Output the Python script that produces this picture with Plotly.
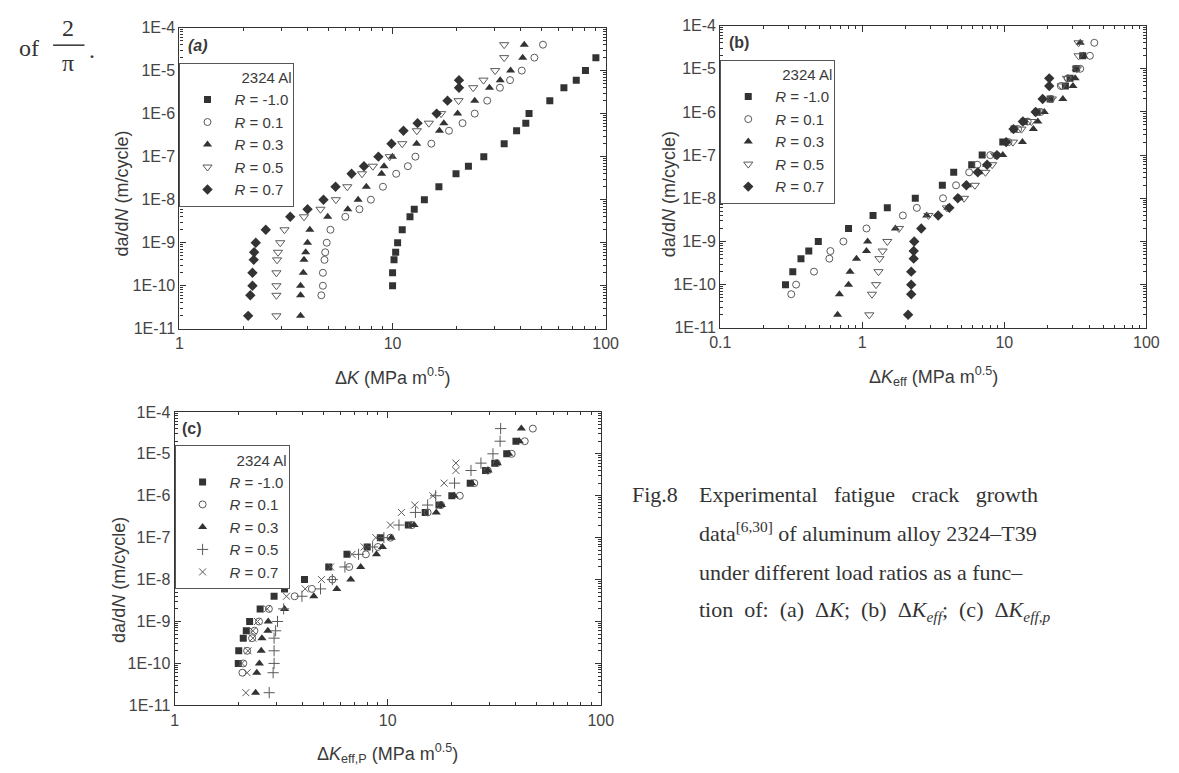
import plotly.graph_objects as go

# ---------------- data: da/dN levels for each load ratio ----------------
dadn_m1 = [1e-10, 2e-10, 4e-10, 6e-10, 1e-9, 2e-9, 4e-9, 6e-9, 1e-8, 2e-8, 4e-8, 6e-8,
           1e-7, 2e-7, 4e-7, 6e-7, 1e-6, 2e-6, 4e-6, 6e-6, 1e-5, 2e-5]
dadn_01 = [6e-11, 1e-10, 2e-10, 4e-10, 6e-10, 1e-9, 2e-9, 4e-9, 6e-9, 1e-8, 2e-8, 4e-8, 6e-8,
           1e-7, 2e-7, 4e-7, 6e-7, 1e-6, 2e-6, 4e-6, 6e-6, 1e-5, 2e-5, 4e-5]
dadn_03 = [2e-11, 6e-11, 1e-10, 2e-10, 4e-10, 6e-10, 1e-9, 2e-9, 4e-9, 6e-9, 1e-8, 2e-8, 4e-8, 6e-8,
           1e-7, 2e-7, 4e-7, 6e-7, 1e-6, 2e-6, 4e-6, 6e-6, 1e-5, 2e-5, 4e-5]
dadn_05 = [2e-11, 6e-11, 1e-10, 2e-10, 4e-10, 6e-10, 1e-9, 2e-9, 4e-9, 6e-9, 1e-8, 2e-8, 4e-8, 6e-8,
           1e-7, 2e-7, 4e-7, 6e-7, 1e-6, 2e-6, 4e-6, 6e-6, 1e-5, 2e-5, 4e-5]
dadn_07 = [2e-11, 6e-11, 1e-10, 2e-10, 4e-10, 6e-10, 1e-9, 2e-9, 4e-9, 6e-9, 1e-8, 2e-8, 4e-8, 6e-8,
           1e-7, 2e-7, 4e-7, 6e-7, 1e-6, 2e-6, 4e-6, 6e-6]

# (a) Delta K
dk_m1 = [10.0, 10.0, 10.16, 10.34, 10.56, 11.1, 12.07, 12.64, 14.1, 16.5, 19.85, 22.7,
         26.8, 33.4, 38.2, 42.2, 43.7, 54.7, 63.7, 72.8, 80.4, 90.0]
dk_01 = [4.63, 4.71, 4.71, 4.79, 4.83, 4.91, 5.11, 6.0, 6.99, 7.91, 9.01, 10.4, 11.8,
         12.8, 15.2, 18.4, 21.3, 24.3, 27.8, 31.9, 35.6, 40.4, 46.3, 50.8]
dk_03 = [3.70, 3.70, 3.70, 3.81, 3.84, 3.91, 3.99, 4.09, 4.96, 6.16, 6.89, 7.53, 8.88, 9.12,
         9.98, 12.97, 16.6, 17.4, 20.2, 24.3, 28.5, 32.0, 35.8, 40.8, 41.5]
dk_05 = [2.85, 2.85, 2.85, 2.85, 2.87, 2.90, 2.97, 3.11, 3.84, 4.59, 5.42, 6.13, 7.19, 8.08,
         9.7, 11.1, 13.0, 14.8, 16.9, 20.4, 23.9, 26.7, 30.3, 33.4, 33.4]
dk_07 = [2.10, 2.15, 2.20, 2.20, 2.23, 2.24, 2.28, 2.54, 3.31, 3.99, 4.74, 5.40, 6.42, 7.34,
         8.58, 9.88, 11.25, 13.1, 16.1, 18.1, 20.5, 20.5]

# (b) effective Delta K
dkeff_m1 = [0.288, 0.324, 0.37, 0.42, 0.49, 0.80, 1.19, 1.50, 2.36, 3.66, 4.40, 5.89,
            6.98, 9.75, 11.7, 13.8, 17.0, 21.0, 26.9, 29.0, 32.0, 35.6]
dkeff_01 = [0.316, 0.342, 0.457, 0.586, 0.596, 0.736, 1.07, 1.93, 2.42, 3.70, 4.57, 5.65, 6.45,
            7.96, 10.7, 12.5, 14.6, 18.0, 21.2, 25.0, 28.0, 34.2, 40.0, 43.0]
dkeff_03 = [0.67, 0.69, 0.80, 0.82, 0.91, 1.07, 1.09, 1.71, 2.84, 4.0, 4.82, 5.5, 6.6, 7.5,
            9.75, 13.4, 16.0, 17.2, 19.1, 25.8, 30.4, 31.5, 32.0, 36.0, 34.2]
dkeff_05 = [1.12, 1.17, 1.25, 1.30, 1.32, 1.39, 1.50, 1.81, 2.92, 3.94, 5.2, 6.2, 7.36, 8.2,
            8.6, 11.5, 13.2, 15.5, 17.6, 21.6, 25.3, 27.6, 32.4, 33.3, 33.3]
dkeff_07 = [2.10, 2.21, 2.21, 2.21, 2.30, 2.30, 2.32, 2.60, 3.42, 4.1, 4.7, 5.4, 6.5, 7.56,
            8.87, 10.3, 11.6, 13.5, 16.6, 18.6, 20.7, 20.7]

# (c) effective Delta K (plastic-zone based)
dkp_m1 = [1.99, 2.00, 2.10, 2.17, 2.25, 2.52, 2.93, 3.28, 4.07, 5.29, 6.44, 8.02,
          9.24, 12.5, 15.0, 17.4, 20.0, 24.4, 28.8, 31.8, 36.2, 40.0]
dkp_01 = [2.08, 2.10, 2.19, 2.31, 2.37, 2.49, 2.77, 3.66, 4.41, 5.50, 6.6, 7.9, 9.0,
          10.3, 13.0, 15.4, 17.8, 21.8, 25.5, 29.5, 32.5, 38.2, 44.0, 48.0]
dkp_03 = [2.40, 2.43, 2.50, 2.55, 2.57, 2.74, 2.75, 3.28, 4.50, 5.77, 6.71, 7.47, 8.86, 9.45,
          10.4, 13.3, 16.9, 17.9, 20.5, 24.8, 29.6, 32.7, 37.0, 41.5, 42.4]
dkp_05 = [2.78, 2.90, 2.93, 2.93, 2.93, 2.98, 3.04, 3.25, 3.96, 4.84, 5.50, 6.3, 7.3, 8.5,
          9.6, 11.3, 13.5, 15.4, 16.8, 20.6, 24.6, 27.4, 31.2, 33.7, 33.9]
dkp_07 = [2.16, 2.19, 2.07, 2.21, 2.33, 2.33, 2.45, 2.72, 3.35, 4.10, 4.89, 5.40, 6.8, 7.76,
          8.8, 10.3, 11.6, 13.4, 16.3, 18.4, 20.9, 20.9]

r_labels = ["<i>R</i> = -1.0", "<i>R</i> = 0.1", "<i>R</i> = 0.3", "<i>R</i> = 0.5", "<i>R</i> = 0.7"]
y_tickvals = [1e-11, 1e-10, 1e-9, 1e-8, 1e-7, 1e-6, 1e-5, 1e-4]
y_ticktext = ["1E-11", "1E-10", "1E-9", "1E-8", "1E-7", "1E-6", "1E-5", "1E-4"]

# ---------------- styling ----------------
W, H = 1179, 773
SANS = "Liberation Sans, Arial, sans-serif"
SERIF = "Liberation Serif, Times New Roman, serif"
INK = "#3a3a3a"
DARK = "#333333"
OPEN = "#5a5a5a"
NB = "&nbsp;"

def px_x(p):
    return p / W

def px_y(p):
    return 1 - p / H

def marker_style(kind):
    if kind == "square":
        return dict(symbol="square", size=7, color=DARK, line=dict(width=0))
    if kind == "circle":
        return dict(symbol="circle-open", size=7, color=OPEN, line=dict(width=1, color=OPEN))
    if kind == "tri":
        return dict(symbol="triangle-up", size=8, color=DARK, line=dict(width=0))
    if kind == "itri":
        return dict(symbol="triangle-down-open", size=8, color=OPEN, line=dict(width=1, color=OPEN))
    if kind == "diamond":
        return dict(symbol="diamond", size=8, color=DARK, line=dict(width=0))
    if kind == "plus":
        return dict(symbol="cross-thin", size=8, color=OPEN, line=dict(width=1, color=OPEN))
    if kind == "x":
        return dict(symbol="x-thin", size=7, color=OPEN, line=dict(width=1, color=OPEN))

fig = go.Figure()

panels = [
    ("x", "y", "legend", ["square", "circle", "tri", "itri", "diamond"],
     [dk_m1, dk_01, dk_03, dk_05, dk_07]),
    ("x2", "y2", "legend2", ["square", "circle", "tri", "itri", "diamond"],
     [dkeff_m1, dkeff_01, dkeff_03, dkeff_05, dkeff_07]),
    ("x3", "y3", "legend3", ["square", "circle", "tri", "plus", "x"],
     [dkp_m1, dkp_01, dkp_03, dkp_05, dkp_07]),
]
dadn_sets = [dadn_m1, dadn_01, dadn_03, dadn_05, dadn_07]

for xa, ya, leg, kinds, xsets in panels:
    for label, kind, xs, ys in zip(r_labels, kinds, xsets, dadn_sets):
        fig.add_trace(go.Scatter(
            x=xs, y=ys, mode="markers", name=label,
            marker=marker_style(kind), xaxis=xa, yaxis=ya,
            legend=leg, showlegend=True, hoverinfo="x+y",
        ))

def minor_vals(lo, hi):
    vals = []
    for e in range(lo, hi):
        for m in range(2, 10):
            vals.append(m * 10.0 ** e)
    return vals

axis_common = dict(
    type="log", showgrid=False, zeroline=False, showline=True, linecolor=DARK,
    linewidth=1.2, mirror="allticks", ticks="inside", ticklen=6, tickwidth=1,
    tickcolor=DARK, tickfont=dict(family=SANS, size=16, color="#444444"),
)

def xaxis(domain, lo, hi, anchor):
    vals = [10.0 ** e for e in range(lo, hi + 1)]
    text = ["0.1" if v < 1 else str(int(round(v))) for v in vals]
    return dict(axis_common, domain=domain, range=[lo, hi], anchor=anchor,
                tickmode="array", tickvals=vals, ticktext=text,
                minor=dict(ticks="inside", ticklen=3, tickcolor=DARK,
                           tickmode="array", tickvals=minor_vals(lo, hi)))

def yaxis(domain, anchor):
    return dict(axis_common, domain=domain, range=[-11, -4], anchor=anchor,
                tickmode="array", tickvals=y_tickvals, ticktext=y_ticktext,
                minor=dict(ticks="inside", ticklen=3, tickcolor=DARK,
                           tickmode="array", tickvals=minor_vals(-11, -4)))

a_x = [px_x(172), px_x(607)]
a_y = [px_y(328), px_y(20)]
b_x = [px_x(724), px_x(1159)]
b_y = [px_y(327), px_y(18)]
c_x = [px_x(167), px_x(602)]
c_y = [px_y(713), px_y(413)]

legend_common = dict(
    xanchor="left", yanchor="top", bgcolor="white", bordercolor="#555555",
    borderwidth=1, font=dict(family=SANS, size=15, color=INK), itemwidth=44,
    itemclick=False, itemdoubleclick=False,
    title=dict(text="2324 Al", side="top right", font=dict(family=SANS, size=15, color=INK)),
)

fig.update_layout(
    width=W, height=H, margin=dict(l=0, r=0, t=0, b=0),
    paper_bgcolor="white", plot_bgcolor="white",
    font=dict(family=SANS, color=INK),
    xaxis=xaxis(a_x, 0, 2, "y"), yaxis=yaxis(a_y, "x"),
    xaxis2=xaxis(b_x, -1, 2, "y2"), yaxis2=yaxis(b_y, "x2"),
    xaxis3=xaxis(c_x, 0, 2, "y3"), yaxis3=yaxis(c_y, "x3"),
    legend=dict(legend_common, x=px_x(172), y=px_y(56)),
    legend2=dict(legend_common, x=px_x(724), y=px_y(53)),
    legend3=dict(legend_common, x=px_x(167), y=px_y(447)),
)

ann = []

def text(xp, yp, s, size=17, family=SANS, xanchor="center", angle=0, color=INK):
    ann.append(dict(x=px_x(xp), y=px_y(yp), xref="paper", yref="paper", text=s,
                    showarrow=False, xanchor=xanchor, yanchor="middle", textangle=angle,
                    font=dict(family=family, size=size, color=color)))

ytitle = "da/d<i>N</i> (m/cycle)"
text(113, 190, ytitle, size=18, angle=-90)
text(672, 190, ytitle, size=18, angle=-90)
text(110, 585, ytitle, size=18, angle=-90)

text(390, 377, "Δ<i>K</i> (MPa m<sup>0.5</sup>)", size=18)
text(942, 377, "Δ<i>K</i><sub>eff</sub> (MPa m<sup>0.5</sup>)", size=18)
text(384, 762, "Δ<i>K</i><sub>eff,P</sub> (MPa m<sup>0.5</sup>)", size=18)

text(179, 38, "<b><i>(a)</i></b>", size=16, xanchor="left")
text(731, 35, "<b>(b)</b>", size=16, xanchor="left")
text(173, 430, "<b>(c)</b>", size=16, xanchor="left")

# fraction at the top left of the page
text(6, 41, "of", size=24, family=SERIF, xanchor="left", color="#333")
text(58, 20, "2", size=24, family=SERIF, color="#333")
text(58, 56, "π", size=24, family=SERIF, color="#333")
text(78, 43, ".", size=24, family=SERIF, xanchor="left", color="#333")

# figure caption (lines justified to a common right edge)
cap = 22
cap_lines = [
    (497, (NB * 3).join(["Experimental", "fatigue", "crack", "growth"])),
    (536, "data<sup>[6,30]</sup> of aluminum alloy 2324–T39"),
    (577, "under different load ratios as a func–"),
    (617, (NB * 2).join(["tion", "of:", "(a)", "Δ<i>K</i>;", "(b)",
                         "Δ<i>K</i><sub><i>eff</i></sub>;", "(c)",
                         "Δ<i>K</i><sub><i>eff,p</i></sub>"])),
]
text(632, 497, "Fig.8", size=cap, family=SERIF, xanchor="left", color="#333")
for yline, s in cap_lines:
    text(700, yline, s, size=cap, family=SERIF, xanchor="left", color="#333")

fig.update_layout(annotations=ann)
fig.add_shape(type="line", xref="paper", yref="paper",
              x0=px_x(43), x1=px_x(75), y0=px_y(38), y1=px_y(38),
              line=dict(color="#333", width=1.5))

fig.write_html("out.html")
